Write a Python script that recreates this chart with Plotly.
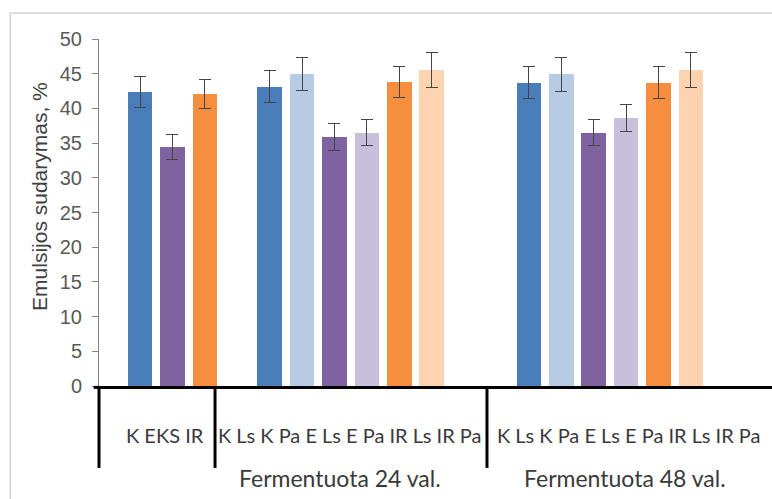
import plotly.graph_objects as go

# Emulsion formation (%) by sample and fermentation time
group_titles = ["", "Fermentuota 24 val.", "Fermentuota 48 val."]
group_categories = [
    ["K", "EKS", "IR"],
    ["K Ls", "K Pa", "E Ls", "E Pa", "IR Ls", "IR Pa"],
    ["K Ls", "K Pa", "E Ls", "E Pa", "IR Ls", "IR Pa"],
]
group_values = [
    [42.4, 34.5, 42.1],
    [43.1, 45.0, 35.9, 36.5, 43.8, 45.5],
    [43.7, 44.9, 36.5, 38.6, 43.7, 45.5],
]
group_errors = [
    [2.2, 1.8, 2.1],
    [2.3, 2.4, 1.9, 1.9, 2.2, 2.5],
    [2.3, 2.5, 1.9, 1.9, 2.3, 2.5],
]
y_ticks = [0, 5, 10, 15, 20, 25, 30, 35, 40, 45, 50]

# colour per category name
palette = {
    "K": "#4a7ebb", "EKS": "#7f63a1", "IR": "#f58f3f",
    "K Ls": "#4a7ebb", "K Pa": "#b7cce4",
    "E Ls": "#7f63a1", "E Pa": "#c8bfdc",
    "IR Ls": "#f58f3f", "IR Pa": "#fdd3b0",
}

# empty category slots placed before each group on the axis
gap_slots = [1, 1, 2]

fig = go.Figure()
slot = 0
for cats, vals, errs, gap in zip(group_categories, group_values, group_errors, gap_slots):
    slot += gap
    xs = list(range(slot, slot + len(cats)))
    slot += len(cats)
    fig.add_trace(go.Bar(
        x=xs, y=vals, width=0.76,
        marker=dict(color=[palette[c] for c in cats], line=dict(width=0)),
        error_y=dict(type="data", array=errs, visible=True,
                     color="#454545", thickness=1, width=6),
        showlegend=False, hoverinfo="skip",
    ))

FONT = "Liberation Sans Narrow, Arial Narrow, Liberation Sans, Arial, sans-serif"
LABEL_FONT = "Lato, Calibri, Carlito, sans-serif"

# group separators below the category axis (paper coordinates)
dividers = [0.0, 0.1724, 0.5765]
label_row_x = [0.098, 0.373, 0.788]
title_row_x = [0.098, 0.3583, 0.7816]

shapes = []
for d in dividers:
    shapes.append(dict(type="line", xref="paper", yref="paper",
                       x0=d, x1=d, y0=0, y1=-0.236,
                       line=dict(color="black", width=3)))
# short extension of the base line left of the value axis
shapes.append(dict(type="line", xref="paper", yref="paper",
                   x0=-0.008, x1=0, y0=-0.004, y1=-0.004,
                   line=dict(color="black", width=3)))
# chart border
shapes.append(dict(type="rect", xref="paper", yref="paper",
                   x0=-0.132, x1=1.05, y0=-0.4, y1=1.075,
                   line=dict(color="#d4d4d4", width=1.5)))

annotations = []
for cats, lx, title, tx in zip(group_categories, label_row_x, group_titles, title_row_x):
    annotations.append(dict(text=" ".join(cats), xref="paper", yref="paper",
                            x=lx, y=-0.141, showarrow=False,
                            xanchor="center", yanchor="middle",
                            font=dict(family=LABEL_FONT, size=20, color="#3a3a3a")))
    if title:
        annotations.append(dict(text=title, xref="paper", yref="paper",
                                x=tx, y=-0.265, showarrow=False,
                                xanchor="center", yanchor="middle",
                                font=dict(family=LABEL_FONT, size=23, color="#3a3a3a")))
annotations.append(dict(text="Emulsijos sudarymas, %", xref="paper", yref="paper",
                        x=-0.0877, y=0.5476, showarrow=False, textangle=-90,
                        xanchor="center", yanchor="middle",
                        font=dict(family="Liberation Sans, Arial, sans-serif",
                                  size=21, color="#404040")))

fig.update_layout(
    width=772, height=499,
    margin=dict(l=99, r=0, t=39, b=113),
    paper_bgcolor="white", plot_bgcolor="white",
    bargap=0,
    xaxis=dict(range=[-0.265, 20.5], showticklabels=False, ticks="",
               showgrid=False, zeroline=False,
               showline=True, linecolor="black", linewidth=3),
    yaxis=dict(range=[0, 50], tickvals=y_ticks, ticks="outside", ticklen=6,
               tickcolor="#868686", showline=True, linecolor="#868686",
               linewidth=1, showgrid=False, zeroline=False,
               ticklabelstandoff=6,
               tickfont=dict(family=FONT, size=20, color="#595959")),
    shapes=shapes,
    annotations=annotations,
)

fig.write_html("out.html")
